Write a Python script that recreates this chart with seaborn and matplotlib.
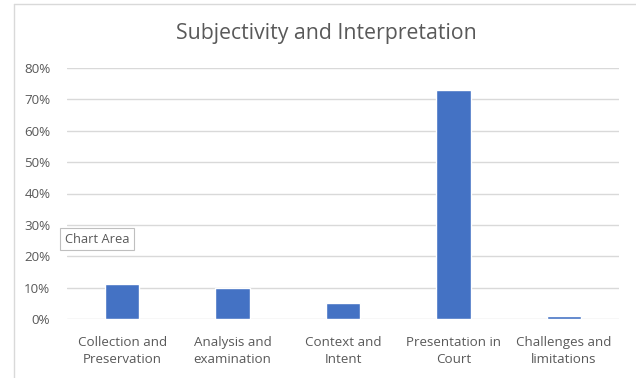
import matplotlib
matplotlib.use("Agg")
import matplotlib.pyplot as plt
import seaborn as sns
import pandas as pd
from matplotlib.ticker import PercentFormatter
from matplotlib.lines import Line2D

categories = ["Collection and\nPreservation", "Analysis and\nexamination", "Context and\nIntent",
              "Presentation in\nCourt", "Challenges and\nlimitations"]
values = [0.11, 0.10, 0.05, 0.73, 0.01]
yticks = [0, 0.1, 0.2, 0.3, 0.4, 0.5, 0.6, 0.7, 0.8]
title = "Subjectivity and Interpretation"

sns.set_style("white")
plt.rcParams['font.family'] = ['Open Sans', 'DejaVu Sans']

df = pd.DataFrame({"cat": categories, "val": values})

fig = plt.figure(figsize=(6.36, 3.78), dpi=100)
ax = fig.add_axes([67/636, 1-319/378, (619-67)/636, (319-68)/378])
sns.barplot(data=df, x="cat", y="val", color="#4472C4", width=0.31, ax=ax, saturation=1)
ax.set_ylim(0, 0.8)
ax.set_yticks(yticks)
ax.yaxis.set_major_formatter(PercentFormatter(1.0, decimals=0))
ax.grid(axis="y", color="#D9D9D9", linewidth=1)
ax.set_axisbelow(True)
for s in ax.spines.values():
    s.set_visible(False)
ax.set_xlabel("")
ax.set_ylabel("")
ax.tick_params(axis="both", length=0, labelcolor="#595959", labelsize=9.6)
ax.tick_params(axis="y", pad=12)
ax.tick_params(axis="x", pad=12)
for lbl in ax.get_xticklabels():
    lbl.set_linespacing(1.45)

fig.text(326/636, 1-33/378, title, ha="center", va="center", fontsize=15.3, color="#595959")

# chart border (left and top)
fig.add_artist(Line2D([13.5/636, 13.5/636], [0, 1-4/378], transform=fig.transFigure, color="#D9D9D9", lw=1))
fig.add_artist(Line2D([13.5/636, 1], [1-4/378, 1-4/378], transform=fig.transFigure, color="#D9D9D9", lw=1))

# tooltip
fig.text(65/636, 1-239/378, "Chart Area", ha="left", va="center", fontsize=9.3, color="#595959",
         bbox=dict(boxstyle="square,pad=0.35", fc="white", ec="#BFBFBF", lw=0.8))

fig.savefig("out.png", dpi=100)
